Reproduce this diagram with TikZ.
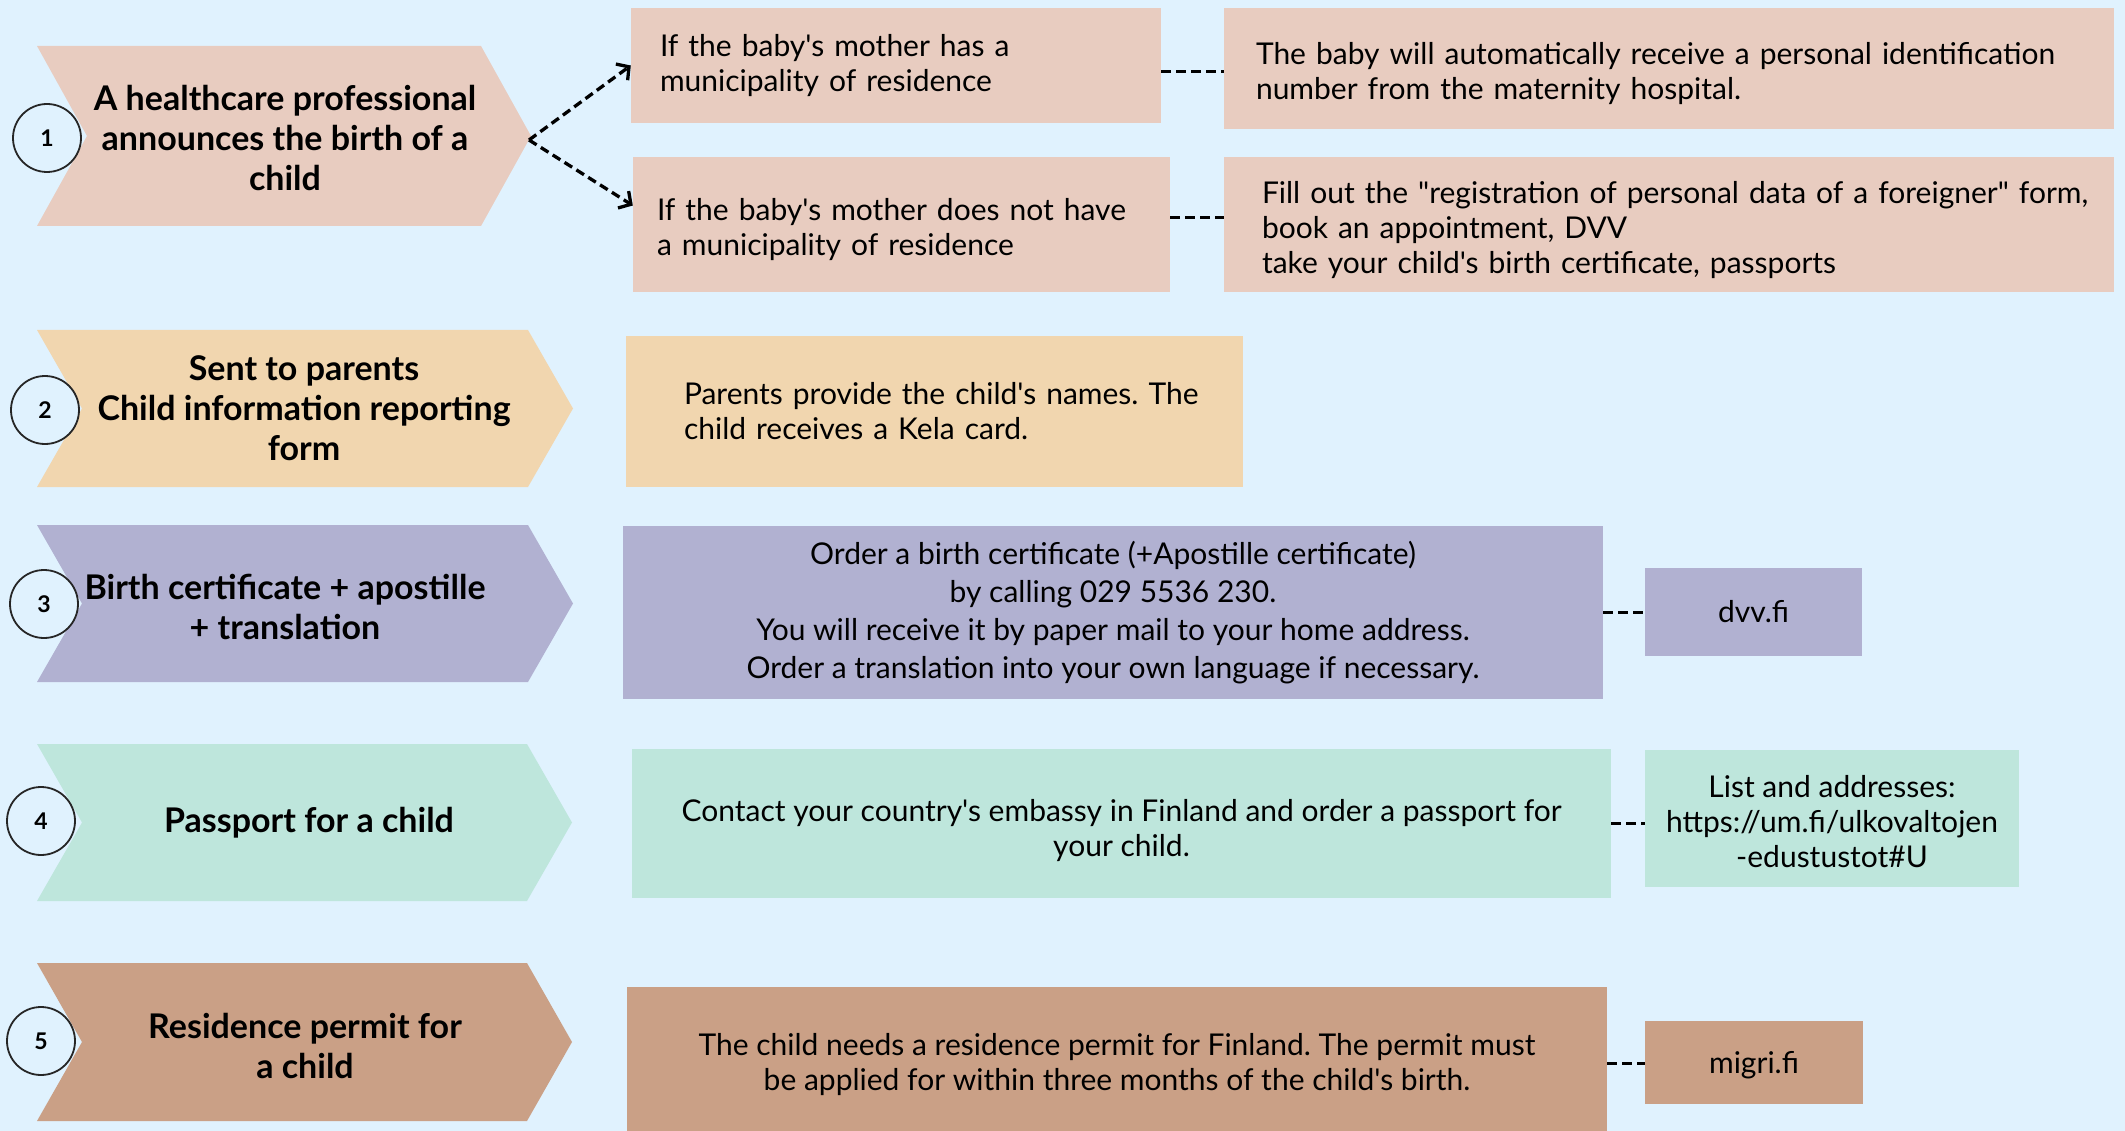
\documentclass[tikz,border=0pt]{standalone}
\usepackage{fontspec}
\setmainfont{Lato}[Ligatures=TeXOff]
\usepackage{tikz}
\usetikzlibrary{arrows.meta,positioning,calc}
\definecolor{bg}{HTML}{E0F2FE}
\definecolor{rowA}{HTML}{E8CCC0}
\definecolor{rowB}{HTML}{F1D6AF}
\definecolor{rowC}{HTML}{B1B1D1}
\definecolor{rowD}{HTML}{BEE6DC}
\definecolor{rowE}{HTML}{CAA086}
\newcommand{\padtop}[1]{\rule{0pt}{#1}}
\frenchspacing
\tikzset{
  box/.style={rectangle,inner ysep=0pt,font=\fontsize{30}{35}\selectfont},
  stepnum/.style={circle,draw=black!85,line width=1.8pt,fill=bg,minimum size=68pt,
    inner sep=0pt,font=\bfseries\fontsize{23}{23}\selectfont},
  steptext/.style={align=center,font=\bfseries\fontsize{34}{40}\selectfont},
  link/.style={line width=3pt,dash pattern=on 10pt off 5pt},
  branch/.style={line width=3.3pt,dash pattern=on 9pt off 5pt,
    -{Straight Barb[length=9pt,width=20pt]}}
}

\begin{document}
\begin{tikzpicture}[x=1pt,y=-1pt]
  \fill[bg] (0,0) rectangle (2125,1131);
  \useasboundingbox (0,0) rectangle (2125,1131);
  % chevrons: top/bottom/shoulder/depth/colour
  \foreach \ya/\yb/\sh/\dep/\col in {46/226/481/50/rowA,330/487/528/45/rowB,
      525/682/528/45/rowC,744/901/527/45/rowD,963/1121/527/45/rowE}{
    \pgfmathsetmacro\ym{(\ya+\yb)/2}
    \fill[\col] (37,\ya) -- (\sh,\ya) -- (\sh+\dep,\ym) -- (\sh,\yb)
      -- (37,\yb) -- (37+\dep,\ym) -- cycle;
  }
  \node[steptext] (chev1) at (285,138) {A healthcare professional\\announces the birth of a\\child};
  \node[steptext] (chev2) at (304,408) {Sent to parents\\Child information reporting\\form};
  \node[steptext] (chev3) at (285,607) {Birth certificate + apostille\\+ translation};
  \node[steptext] (chev4) at (309,823) {Passport for a child};
  \node[steptext] (chev5) at (305,1046) {Residence permit for\\a child};
  \coordinate (tip1) at (529,140);

  \node[stepnum] (num1) at (47,138) {1};
  \node[stepnum] (num2) at (45,410) {2};
  \node[stepnum] (num3) at (44,604) {3};
  \node[stepnum] (num4) at (41,821) {4};
  \node[stepnum] (num5) at (41,1041) {5};

  % row 1
  \node[box,fill=rowA,minimum width=530pt,minimum height=115pt,text width=472pt,
    inner xsep=29pt,align=left] (home) at (896,65.5)
    {If the baby's mother has a\\municipality of residence};
  \node[box,fill=rowA,minimum width=537pt,minimum height=135pt,text width=489pt,
    inner xsep=24pt,align=left] (nohome) at (901.5,224.5)
    {\padtop{32.7pt}If the baby's mother does not have\\a municipality of residence};
  \node[box,fill=rowA,minimum width=890pt,minimum height=121pt,text width=826pt,
    inner xsep=32pt,align=left] (autoid) at (1669,68.5)
    {\padtop{32.7pt}The baby will automatically receive a personal identification\\number from the maternity hospital.};
  \node[box,fill=rowA,minimum width=890pt,minimum height=135pt,text width=870pt,
    inner xsep=10pt,align=left] (foreign) at (1669,224.5)
    {\hspace*{28pt}\padtop{33.7pt}Fill out the "registration of personal data of a foreigner" form,\\
     \hspace*{28pt}book an appointment, DVV\\
     \hspace*{28pt}take your child's birth certificate, passports};
  \draw[branch] (tip1) -- (home.west);
  \draw[branch] (tip1) -- ([yshift=19pt]nohome.west);
  \draw[link] ([yshift=-6pt]home.east) -- ([yshift=-6pt]home.east -| autoid.west);
  \draw[link] ([yshift=7pt]nohome.east) -- ([yshift=7pt]nohome.east -| foreign.west);

  % row 2
  \node[box,fill=rowB,minimum width=617pt,minimum height=151pt,text width=597pt,
    inner xsep=10pt,align=left] (kela) at (934.5,411.5)
    {\hspace*{48pt}Parents provide the child's names. The\\
     \hspace*{48pt}child receives a Kela card.};

  % row 3
  \node[box,fill=rowC,minimum width=980pt,minimum height=173pt,align=center,
    font=\fontsize{30}{38}\selectfont] (order) at (1113,612.5)
    {Order a birth certificate (+Apostille certificate)\\by calling 029 5536 230.\\You will receive it by paper mail to your home address.\\Order a translation into your own language if necessary.};
  \node[box,fill=rowC,minimum width=217pt,minimum height=88pt] (dvv) at (1753.5,612) {dvv.fi};
  \draw[link] (order.east) -- (order.east -| dvv.west);

  % row 4
  \node[box,fill=rowD,minimum width=979pt,minimum height=149pt,align=center] (embassy) at (1121.5,823.5)
    {\padtop{35.7pt}Contact your country's embassy in Finland and order a passport for\\your child.};
  \node[box,fill=rowD,minimum width=374pt,minimum height=137pt,align=center] (umfi) at (1832,818.5)
    {\padtop{27.7pt}List and addresses:\\https://um.fi/ulkovaltojen\\-edustustot\#U};
  \draw[link] (embassy.east) -- (embassy.east -| umfi.west);

  % row 5
  \node[box,fill=rowE,minimum width=980pt,minimum height=144pt,align=center] (permit) at (1117,1059)
    {\padtop{32.7pt}The child needs a residence permit for Finland. The permit must\\be applied for within three months of the child's birth.};
  \node[box,fill=rowE,minimum width=218pt,minimum height=83pt] (migri) at (1754,1062.5) {\padtop{27.7pt}migri.fi};
  \draw[link] ([yshift=-4pt]permit.east) -- ([yshift=-4pt]permit.east -| migri.west);
\end{tikzpicture}
\end{document}
